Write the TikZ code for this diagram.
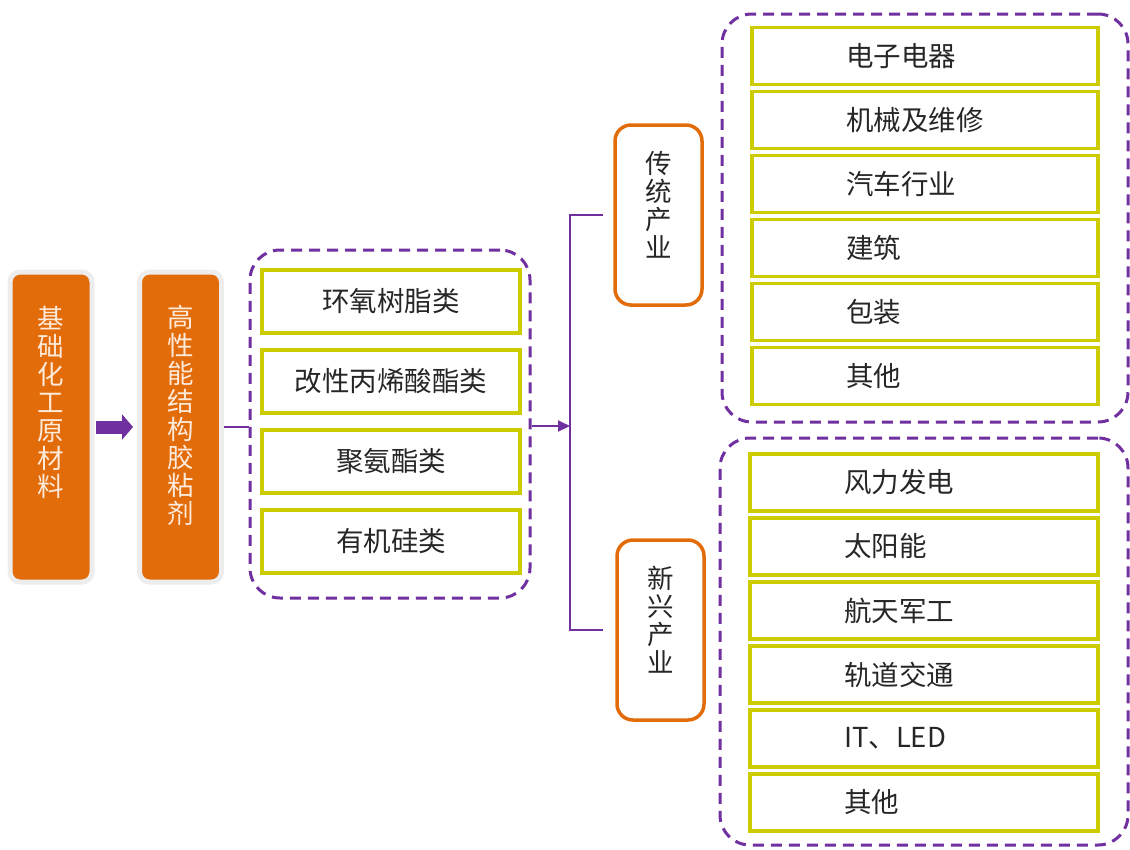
\documentclass[tikz,border=0pt]{standalone}
\usepackage{fontspec}
\setmainfont{Noto Sans CJK SC}
\usetikzlibrary{arrows.meta,positioning}
\definecolor{chainpurple}{HTML}{7030A0}
\definecolor{chainorange}{HTML}{E36C0A}
\definecolor{chainyellow}{HTML}{CCCC00}
\definecolor{paleorange}{HTML}{FDEADA}
\definecolor{inktext}{HTML}{262626}
\tikzset{
    >={Stealth[]},
    solidbox/.style={rectangle,rounded corners=10pt,fill=chainorange,draw=black!7,line width=5pt,minimum width=82pt,minimum height=310pt},
    outlinebox/.style={rectangle,rounded corners=16pt,draw=chainorange,line width=3.5pt,minimum width=87pt,minimum height=180pt},
    groupbox/.style={rectangle,rounded corners=30pt,draw=chainpurple,line width=3pt,dash pattern=on 11pt off 7pt},
    itembox/.style={rectangle,draw=chainyellow,line width=3.5pt,text=inktext},
    vtext/.style={align=center,inner sep=0pt,font=\fontsize{26.5}{28}\selectfont},
    link/.style={draw=chainpurple,line width=2pt}
}

\begin{document}
\begin{tikzpicture}[x=1pt,y=-1pt,
        every node/.style={font=\fontsize{27.5}{30}\selectfont}]
    \useasboundingbox (0,0) rectangle (1130,849);

    % Raw material -> adhesive
    \node[solidbox] (raw) at (51,427) {};
    \node[vtext,text=paleorange] (raw-txt) at (51,402) {基\\础\\化\\工\\原\\材\\料};
    \node[solidbox] (glue) at (180.5,427) {};
    \node[vtext,text=paleorange] (glue-txt) at (180.5,415) {高\\性\\能\\结\\构\\胶\\粘\\剂};
    \draw[chainpurple,line width=13pt,shorten <=1pt,shorten >=4pt,
        -{Triangle[length=11pt,width=25pt]}] (raw.east) -- (glue.west);

    % Adhesive types
    \node[groupbox,minimum width=280pt,minimum height=348pt] (mats) at (390,424) {};
    \foreach \t [count=\i] in {环氧树脂类,改性丙烯酸酯类,聚氨酯类,有机硅类}
        \node[itembox,minimum width=258pt,minimum height=63pt] (mat-\i) at (391,301.5+80*\i-80) {\t};
    \draw[link] (glue.east) -- (glue.east -| mats.west);

    % Split into two industries
    \coordinate (split) at (570,426);
    \draw[link,-{Triangle[length=12pt,width=11pt]}] (mats.east |- split) -- (split);
    \node[outlinebox] (trad) at (658.5,215) {};
    \node[vtext,text=inktext] (trad-txt) at (658.5,205) {传\\统\\产\\业};
    \node[outlinebox] (new) at (660.5,630) {};
    \node[vtext,text=inktext] (new-txt) at (660.5,620) {新\\兴\\产\\业};
    \draw[link] ([xshift=-10pt]trad.west) -| (split) |- ([xshift=-12pt]new.west);

    % Traditional industries
    \node[groupbox,minimum width=406pt,minimum height=408pt] (trad-grp) at (925,218) {};
    \foreach \t [count=\i] in {电子电器,机械及维修,汽车行业,建筑,包装,其他}
        \node[itembox,minimum width=346pt,minimum height=57pt,inner xsep=94pt,text width=158pt,align=left]
            (trad-\i) at (925,56+64*\i-64) {\t};

    % Emerging industries
    \node[groupbox,minimum width=408pt,minimum height=407pt] (new-grp) at (924,641.5) {};
    \foreach \t [count=\i] in {风力发电,太阳能,航天军工,轨道交通,IT、LED,其他}
        \node[itembox,minimum width=348pt,minimum height=57pt,inner xsep=94pt,text width=160pt,align=left]
            (new-\i) at (924,482.5+64*\i-64) {\t};
\end{tikzpicture}
\end{document}
